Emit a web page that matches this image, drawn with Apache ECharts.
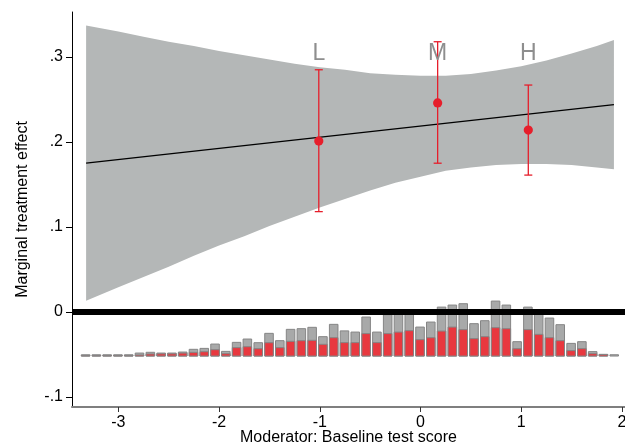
<!DOCTYPE html>
<html>
<head>
<meta charset="UTF-8">
<title>Marginal treatment effect</title>
<script src="https://cdn.jsdelivr.net/npm/echarts@6/dist/echarts.min.js"></script>
</head>
<body style="margin:0;background:#fff;">
<div id="main" style="width:625px;height:447px;"></div>
<script type="text/javascript">
// confidence band
const bandX = [-3.32, -3.0, -2.75, -2.5, -2.25, -2.0, -1.75, -1.5, -1.25, -1.0, -0.75, -0.5, -0.25, 0, 0.25, 0.5, 0.75, 1.0, 1.25, 1.5, 1.75, 1.92]
const bandUpper = [0.337, 0.330, 0.324, 0.318, 0.313, 0.307, 0.302, 0.297, 0.292, 0.288, 0.285, 0.281, 0.279, 0.278, 0.278, 0.280, 0.284, 0.289, 0.296, 0.304, 0.313, 0.320]
const bandLower = [0.013, 0.029, 0.041, 0.053, 0.066, 0.078, 0.089, 0.101, 0.112, 0.123, 0.133, 0.143, 0.152, 0.159, 0.166, 0.170, 0.173, 0.174, 0.174, 0.173, 0.170, 0.168]

// fitted linear effect
const fitX = [-3.32, 1.92]
const fitY = [0.175, 0.244]

// group estimates L / M / H
const groupNames = ['L', 'M', 'H']
const groupX = [-1.01, 0.17, 1.07]
const groupEst = [0.201, 0.246, 0.214]
const groupLow = [0.118, 0.175, 0.161]
const groupHigh = [0.285, 0.318, 0.267]
const groupLabelY = 0.304

// histogram of the moderator (heights in axis units above histBase)
const binX = [-3.325, -3.218, -3.111, -3.004, -2.897, -2.790, -2.682, -2.575, -2.468, -2.361,
    -2.254, -2.147, -2.040, -1.933, -1.826, -1.719, -1.611, -1.504, -1.397, -1.290,
    -1.183, -1.076, -0.969, -0.862, -0.755, -0.648, -0.540, -0.433, -0.326, -0.219,
    -0.112, -0.005, 0.102, 0.209, 0.316, 0.424, 0.531, 0.638, 0.745, 0.852,
    0.959, 1.066, 1.173, 1.280, 1.387, 1.495, 1.602, 1.709, 1.816, 1.923]
const binAll = [0.0015, 0.0015, 0.0015, 0.0015, 0.0015, 0.0035, 0.0044, 0.0035, 0.0035, 0.0047,
    0.0079, 0.0090, 0.0141, 0.0055, 0.0161, 0.0200, 0.0157, 0.0267, 0.0181, 0.0314,
    0.0322, 0.0338, 0.0228, 0.0373, 0.0296, 0.0282, 0.0459, 0.0282, 0.0487, 0.0534,
    0.0518, 0.0341, 0.0400, 0.0576, 0.0600, 0.0616, 0.0381, 0.0416, 0.0647, 0.0600,
    0.0169, 0.0576, 0.0518, 0.0447, 0.0369, 0.0149, 0.0169, 0.0052, 0.0020, 0.0015]
const binTreat = [0.0005, 0.0005, 0.0005, 0.0005, 0.0005, 0.0012, 0.0024, 0.0026, 0.0026, 0.0035,
    0.0043, 0.0051, 0.0075, 0.0028, 0.0099, 0.0110, 0.0087, 0.0157, 0.0099, 0.0173,
    0.0181, 0.0185, 0.0138, 0.0216, 0.0158, 0.0158, 0.0264, 0.0158, 0.0264, 0.0282,
    0.0299, 0.0193, 0.0216, 0.0294, 0.0341, 0.0311, 0.0205, 0.0228, 0.0334, 0.0322,
    0.0087, 0.0311, 0.0255, 0.0216, 0.0181, 0.0064, 0.0087, 0.0028, 0.0018, 0]
const histBase = -0.052
const binWidth = 0.085

const xTicks = [-3, -2, -1, 0, 1, 2]
const yTicks = [-0.1, 0, 0.1, 0.2, 0.3]
</script>

<script type="text/javascript">
    const FONT = 'Liberation Sans, Arial, sans-serif'
    const RED = '#e61e2b'

    const myChart = echarts.init(document.getElementById('main'))

    const histRows = binX.map((x, i) => [x, binAll[i], binTreat[i]])
    const groupRows = groupX.map((x, i) => [x, groupEst[i], groupLow[i], groupHigh[i]])

    const option = {
        animation: false,
        backgroundColor: '#fff',
        grid: {left: 72, right: 0, top: 12, bottom: 40, outerBoundsMode: 'none'},
        xAxis: {
            type: 'value',
            min: -3.46,
            max: 2.03,
            name: 'Moderator: Baseline test score',
            nameLocation: 'middle',
            nameGap: 23,
            nameMoveOverlap: false,
            nameTextStyle: {fontSize: 16, color: '#000', fontFamily: FONT},
            axisLine: {show: true, onZero: false, lineStyle: {color: '#7f7f7f', width: 2}},
            axisTick: {show: true, customValues: xTicks, length: 5, lineStyle: {color: '#333'}},
            axisLabel: {customValues: xTicks, fontSize: 16, color: '#000', margin: 8, fontFamily: FONT},
            splitLine: {show: false}
        },
        yAxis: {
            type: 'value',
            min: -0.112,
            max: 0.353,
            name: 'Marginal treatment effect',
            nameLocation: 'middle',
            nameGap: 41,
            nameMoveOverlap: false,
            nameTextStyle: {fontSize: 16, color: '#000', fontFamily: FONT},
            axisLine: {show: true, onZero: false, lineStyle: {color: '#000', width: 1}},
            axisTick: {show: true, customValues: yTicks, length: 6, lineStyle: {color: '#000'}},
            axisLabel: {
                customValues: yTicks, fontSize: 16, color: '#000', margin: 9, fontFamily: FONT,
                formatter: v => v === 0 ? '0' : (v < 0 ? '-' : '') + '.' + Math.round(Math.abs(v) * 10)
            },
            splitLine: {show: false}
        },
        series: [{
            // shaded band
            type: 'custom',
            z: 1,
            silent: true,
            data: [[bandX[0], bandLower[0]]],
            renderItem: (params, api) => {
                const pts = []
                bandX.forEach((x, i) => pts.push(api.coord([x, bandUpper[i]])))
                for (let i = bandX.length - 1; i >= 0; i--) pts.push(api.coord([bandX[i], bandLower[i]]))
                return {type: 'polygon', shape: {points: pts}, style: {fill: '#b4b7b7'}}
            }
        }, {
            // fitted line + zero reference
            type: 'line',
            z: 2,
            silent: true,
            symbol: 'none',
            data: fitX.map((x, i) => [x, fitY[i]]),
            lineStyle: {color: '#000', width: 1.3},
            markLine: {
                silent: true,
                symbol: ['none', 'none'],
                label: {show: false},
                lineStyle: {color: '#000', width: 6, type: 'solid'},
                data: [{yAxis: 0}]
            }
        }, {
            // histogram
            type: 'custom',
            z: 3,
            silent: true,
            data: histRows,
            renderItem: (params, api) => {
                const x = api.value(0)
                const all = api.value(1)
                const tr = api.value(2)
                const rect = (h, fill) => {
                    const p0 = api.coord([x - binWidth / 2, histBase + h])
                    const p1 = api.coord([x + binWidth / 2, histBase])
                    return {
                        type: 'rect',
                        shape: {x: p0[0], y: p0[1], width: p1[0] - p0[0], height: p1[1] - p0[1]},
                        style: {fill: fill, stroke: '#858585', lineWidth: 1}
                    }
                }
                const children = [rect(all, '#a8a9a9')]
                if (tr > 0) children.push(rect(tr, '#e8383f'))
                return {type: 'group', children: children}
            }
        }, {
            // group estimates with CIs
            type: 'custom',
            z: 4,
            silent: true,
            data: groupRows,
            renderItem: (params, api) => {
                const x = api.value(0)
                const c = api.coord([x, api.value(1)])
                const lo = api.coord([x, api.value(2)])
                const hi = api.coord([x, api.value(3)])
                const st = {stroke: RED, lineWidth: 1.3}
                return {
                    type: 'group',
                    children: [
                        {type: 'line', shape: {x1: c[0], y1: lo[1], x2: c[0], y2: hi[1]}, style: st},
                        {type: 'line', shape: {x1: c[0] - 4, y1: lo[1], x2: c[0] + 4, y2: lo[1]}, style: st},
                        {type: 'line', shape: {x1: c[0] - 4, y1: hi[1], x2: c[0] + 4, y2: hi[1]}, style: st},
                        {type: 'circle', shape: {cx: c[0], cy: c[1], r: 4.6}, style: {fill: RED}}
                    ]
                }
            }
        }, {
            // L / M / H labels
            type: 'custom',
            z: 5,
            silent: true,
            data: groupX.map(x => [x, groupLabelY]),
            renderItem: (params, api) => {
                const p = api.coord([api.value(0), api.value(1)])
                return {
                    type: 'text',
                    x: p[0],
                    y: p[1],
                    style: {
                        text: groupNames[params.dataIndex],
                        fill: '#8e8e8e',
                        fontSize: 23,
                        fontFamily: FONT,
                        align: 'center',
                        verticalAlign: 'middle'
                    }
                }
            }
        }]
    }

    myChart.setOption(option)
</script>
</body>
</html>
